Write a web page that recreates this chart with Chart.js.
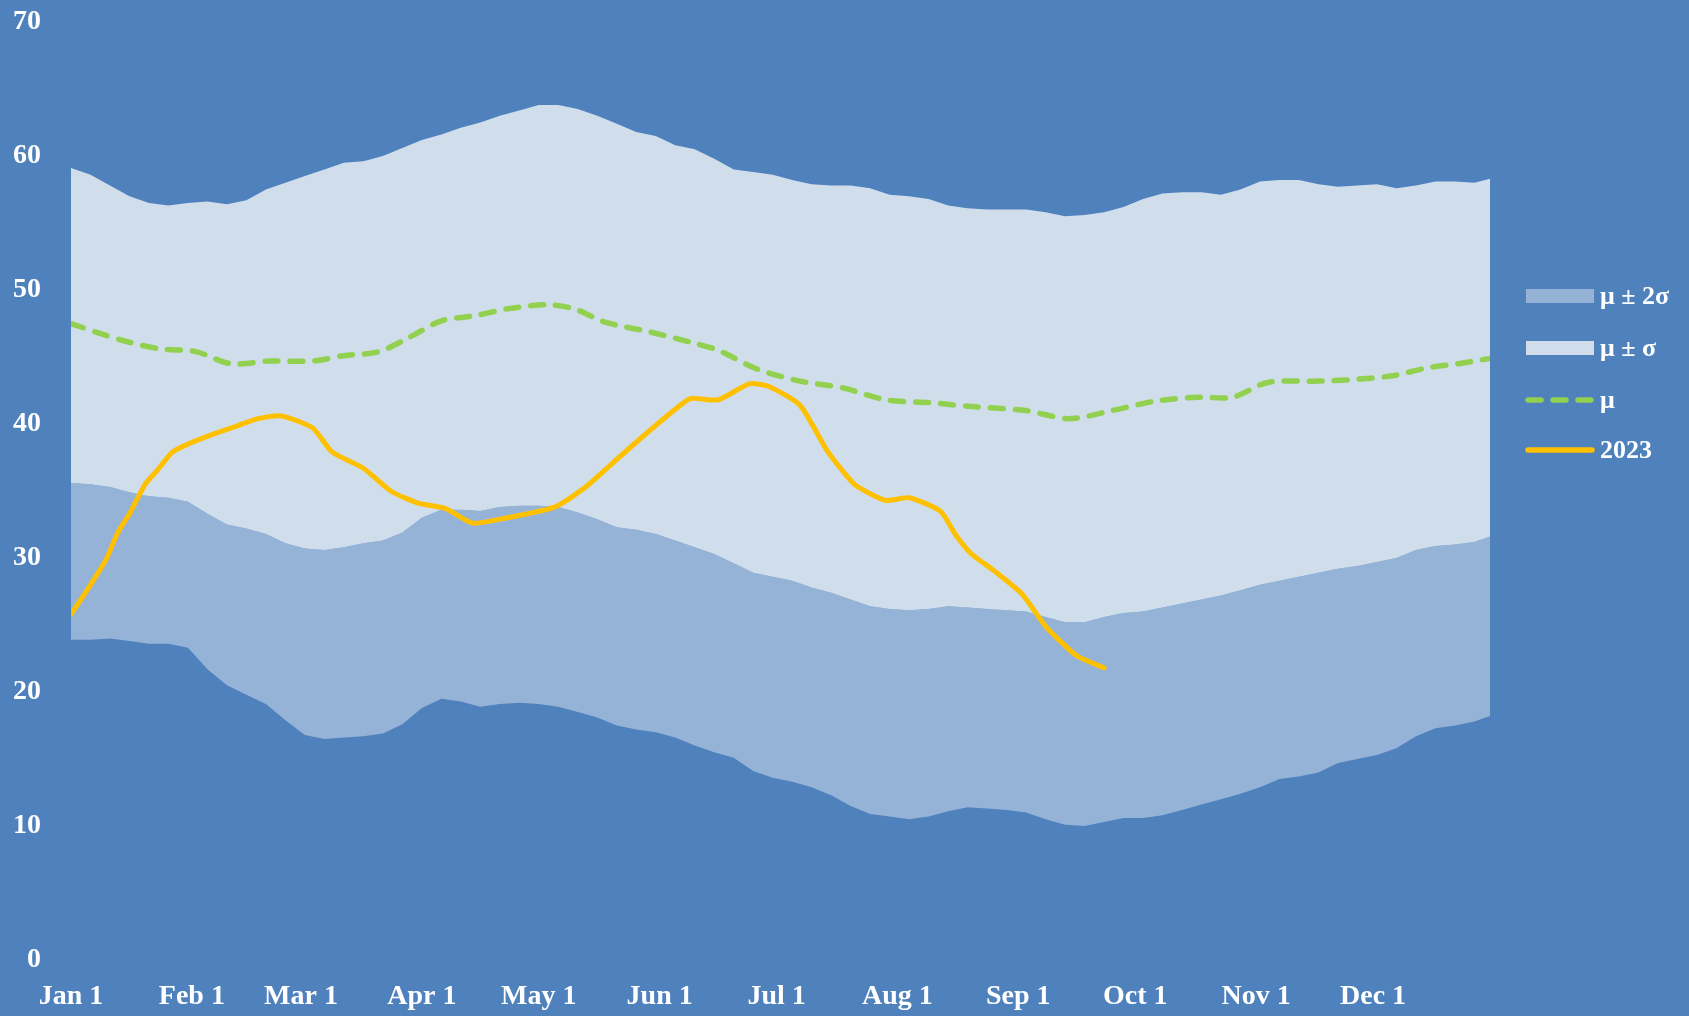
<!DOCTYPE html>
<html>
<head>
<meta charset="utf-8">
<script src="https://cdn.jsdelivr.net/npm/chart.js@4.4.1/dist/chart.umd.min.js"></script>
<style>
  html, body { margin: 0; padding: 0; background: #4F81BD; overflow: hidden; }
  #wrap { width: 1689px; height: 1016px; }
  canvas { display: block; }
</style>
</head>
<body>
<div id="wrap"><canvas id="c" width="1689" height="1016"></canvas></div>
<script>
// ---- Data (day of year, 0 = Jan 1) ----
const monthDays   = [0, 31, 59, 90, 120, 151, 181, 212, 243, 273, 304, 334];
const monthLabels = ["Jan 1", "Feb 1", "Mar 1", "Apr 1", "May 1", "Jun 1", "Jul 1", "Aug 1", "Sep 1", "Oct 1", "Nov 1", "Dec 1"];
const yTicks = [0, 10, 20, 30, 40, 50, 60, 70];

const bandDays = [0,5,10,15,20,25,30,35,40,45,50,55,60,65,70,75,80,85,90,95,100,105,110,115,120,125,130,135,140,145,150,155,160,165,170,175,180,185,190,195,200,205,210,215,220,225,230,235,240,245,250,255,260,265,270,275,280,285,290,295,300,305,310,315,320,325,330,335,340,345,350,355,360,364];

// mu + sigma (upper edge of light band)
const upper1 = [59.1,58.6,57.8,57.0,56.5,56.3,56.5,56.6,56.4,56.7,57.5,58.0,58.5,59.0,59.5,59.6,60.0,60.6,61.2,61.6,62.1,62.5,63.0,63.4,63.8,63.8,63.5,63.0,62.4,61.8,61.5,60.8,60.5,59.8,59.0,58.8,58.6,58.2,57.9,57.8,57.8,57.6,57.1,57.0,56.8,56.3,56.1,56.0,56.0,56.0,55.8,55.5,55.6,55.8,56.2,56.8,57.2,57.3,57.3,57.1,57.5,58.1,58.2,58.2,57.9,57.7,57.8,57.9,57.6,57.8,58.1,58.1,58.0,58.3];

// mu - sigma
const lower1 = [35.6,35.5,35.3,34.9,34.6,34.5,34.2,33.3,32.5,32.2,31.8,31.1,30.7,30.6,30.8,31.1,31.3,31.9,33.0,33.6,33.6,33.5,33.8,33.9,33.9,33.8,33.4,32.9,32.3,32.1,31.8,31.3,30.8,30.3,29.6,28.9,28.6,28.3,27.8,27.4,26.9,26.4,26.2,26.1,26.2,26.4,26.3,26.2,26.1,26.0,25.6,25.2,25.2,25.6,25.9,26.0,26.3,26.6,26.9,27.2,27.6,28.0,28.3,28.6,28.9,29.2,29.4,29.7,30.0,30.6,30.9,31.0,31.2,31.6];

// mu - 2 sigma
const lower2 = [23.9,23.9,24.0,23.8,23.6,23.6,23.3,21.7,20.5,19.8,19.1,17.9,16.8,16.5,16.6,16.7,16.9,17.6,18.8,19.5,19.3,18.9,19.1,19.2,19.1,18.9,18.5,18.1,17.5,17.2,17.0,16.6,16.0,15.5,15.1,14.1,13.6,13.3,12.9,12.3,11.5,10.9,10.7,10.5,10.7,11.1,11.4,11.3,11.2,11.0,10.5,10.1,10.0,10.3,10.6,10.6,10.8,11.2,11.6,12.0,12.4,12.9,13.5,13.7,14.0,14.7,15.0,15.3,15.8,16.7,17.3,17.5,17.8,18.2];

// mu
const meanDays = [0,7,15,23,32,41,51,62,70,79,87,95,104,112,122,129,137,148,159,166,176,187,198,209,220,231,245,256,267,278,289,298,307,320,328,339,348,356,364];
const meanVals = [47.5,46.8,46.1,45.6,45.4,44.5,44.7,44.7,45.1,45.4,46.5,47.7,48.1,48.6,48.9,48.6,47.6,46.9,46.1,45.5,44.1,43.2,42.7,41.8,41.6,41.3,41.0,40.4,41.0,41.7,42.0,42.0,43.1,43.2,43.3,43.6,44.2,44.5,44.9];

// 2023
const yearDays = [0,5,9,12,15,19,22,26,30,37,43,48,54,62,67,75,82,89,96,103,110,124,132,139,146,155,159,166,174,179,187,194,201,209,215,223,227,231,237,244,250,258,265];
const yearVals = [25.8,28.0,29.9,31.9,33.3,35.5,36.5,37.9,38.5,39.3,39.9,40.4,40.6,39.7,37.9,36.7,35.0,34.1,33.7,32.6,32.9,33.8,35.3,37.1,38.9,41.1,41.9,41.8,43.0,42.8,41.4,38.0,35.5,34.3,34.5,33.5,31.7,30.3,29.0,27.3,24.9,22.7,21.8];

const seriesNames = ["\u03bc \u00b1 2\u03c3", "\u03bc \u00b1 \u03c3", "\u03bc", "2023"];

// ---- Styles ----
const BG = '#4F81BD', MID = '#95B3D7', LIGHT = '#D0DEEC', GREEN = '#92D050', GOLD = '#FFC000';
const FONT = '"Liberation Serif", "Times New Roman", serif';

const pts = (xs, ys) => xs.map((x, i) => ({ x: x, y: ys[i] }));

const legendPlugin = {
  id: 'customLegend',
  afterDraw(chart) {
    const ctx = chart.ctx;
    const items = [
      { label: seriesNames[0], type: 'box', color: MID },
      { label: seriesNames[1], type: 'box', color: LIGHT },
      { label: seriesNames[2], type: 'dash', color: GREEN },
      { label: seriesNames[3], type: 'line', color: GOLD }
    ];
    const x0 = 1526, x1 = 1594, tx = 1600;
    const ys = [296, 348, 400, 450];
    ctx.save();
    items.forEach((it, i) => {
      const y = ys[i];
      if (it.type === 'box') {
        ctx.fillStyle = it.color;
        ctx.fillRect(x0, y - 7, x1 - x0, 14);
      } else {
        ctx.strokeStyle = it.color;
        ctx.lineWidth = 5.5;
        ctx.lineCap = 'round';
        ctx.setLineDash(it.type === 'dash' ? [13, 12] : []);
        ctx.beginPath();
        ctx.moveTo(x0 + 2, y);
        ctx.lineTo(x1 - 2, y);
        ctx.stroke();
        ctx.setLineDash([]);
      }
      ctx.fillStyle = '#FFFFFF';
      ctx.font = 'bold 26px ' + FONT;
      ctx.textBaseline = 'middle';
      ctx.textAlign = 'left';
      ctx.fillText(it.label, tx, y + 1);
    });
    ctx.restore();
  }
};

new Chart(document.getElementById('c'), {
  type: 'line',
  data: {
    datasets: [
      { label: 'lower2', order: 5, data: pts(bandDays, lower2), borderWidth: 0, pointRadius: 0, fill: false, borderColor: 'rgba(0,0,0,0)' },
      { label: seriesNames[0], order: 4, data: pts(bandDays, lower1), borderWidth: 0, pointRadius: 0, fill: '-1', backgroundColor: MID, borderColor: 'rgba(0,0,0,0)' },
      { label: seriesNames[1], order: 3, data: pts(bandDays, upper1), borderWidth: 0, pointRadius: 0, fill: '-1', backgroundColor: LIGHT, borderColor: 'rgba(0,0,0,0)' },
      { label: seriesNames[2], order: 1, data: pts(meanDays, meanVals), borderColor: GREEN, borderWidth: 5.5, borderDash: [13, 12], borderCapStyle: 'round', pointRadius: 0, fill: false, tension: 0.3 },
      { label: seriesNames[3], order: 0, data: pts(yearDays, yearVals), borderColor: GOLD, borderWidth: 5, borderCapStyle: 'round', borderJoinStyle: 'round', pointRadius: 0, fill: false, tension: 0.2 }
    ]
  },
  options: {
    responsive: false,
    animation: false,
    layout: { padding: { left: 0, right: 199, top: 22, bottom: 0 } },
    plugins: { legend: { display: false }, tooltip: { enabled: false } },
    scales: {
      x: {
        type: 'linear', min: 0, max: 364,
        grid: { display: false, drawTicks: false },
        border: { display: false },
        afterBuildTicks: (axis) => { axis.ticks = monthDays.map(v => ({ value: v })); },
        afterFit: (axis) => { axis.height = 56; },
        ticks: {
          autoSkip: false, maxRotation: 0, padding: 20,
          color: '#FFFFFF', font: { family: FONT, size: 28, weight: 'bold' },
          callback: (v) => { const i = monthDays.indexOf(v); return i >= 0 ? monthLabels[i] : ''; }
        }
      },
      y: {
        min: 0, max: 70,
        grid: { display: false, drawTicks: true, tickLength: 30 },
        border: { display: false },
        afterBuildTicks: (axis) => { axis.ticks = yTicks.map(v => ({ value: v })); },
        afterFit: (axis) => { axis.width = 71; },
        ticks: {
          padding: 0, color: '#FFFFFF', font: { family: FONT, size: 28, weight: 'bold' }
        }
      }
    }
  },
  plugins: [legendPlugin]
});
</script>
</body>
</html>
